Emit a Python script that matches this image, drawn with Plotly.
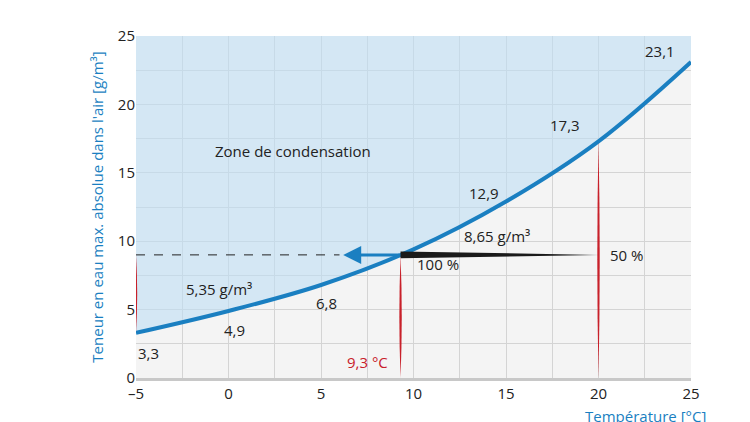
import plotly.graph_objects as go

temps = [-5, 0, 5, 10, 15, 20, 25]
water = [3.3, 4.9, 6.8, 9.4, 12.9, 17.3, 23.1]
label_txt = ["3,3", "4,9", "6,8", "", "12,9", "17,3", "23,1"]
dew_t = 9.3
abs_content = 9.0
room_t = 20
room_sat = 17.3
start_sat = 3.3

BLUE = "#1a7fc1"
RED = "#c8202a"
FONT = "Open Sans"

fig = go.Figure()
fig.add_trace(go.Scatter(x=temps, y=[25]*len(temps), mode="lines", line=dict(width=0), hoverinfo="skip"))
fig.add_trace(go.Scatter(x=temps, y=water, mode="lines", line=dict(color=BLUE, width=4, shape="spline"),
                         fill="tonexty", fillcolor="rgba(190,222,244,0.6)"))

lx = [-4.3, 0.3, 5.3, None, 13.8, 18.2, 23.3]
ly = [1.8, 3.5, 5.5, None, 13.5, 18.5, 23.9]
for s, x, y in zip(label_txt, lx, ly):
    if s:
        fig.add_annotation(x=x, y=y, text=s, showarrow=False, font=dict(size=15, color="#222", family=FONT))

shapes = []
def spindle(x, y0, y1, w=0.13):
    m = (y0 + y1) / 2
    return dict(type="path", path=f"M {x},{y0} Q {x+w},{m} {x},{y1} Q {x-w},{m} {x},{y0} Z",
                fillcolor=RED, line=dict(width=0), layer="above")
shapes.append(spindle(-5, start_sat, abs_content))
shapes.append(spindle(dew_t, 0, abs_content))
shapes.append(spindle(room_t, 0, room_sat))
shapes.append(dict(type="path", path=f"M {room_t},{abs_content} L {dew_t},{abs_content-0.25} L {dew_t},{abs_content+0.25} Z",
                   fillcolor="#1a1a1a", line=dict(width=0)))
shapes.append(dict(type="line", x0=-5, x1=6, y0=abs_content, y1=abs_content, line=dict(color="#222", width=1, dash="dash")))
fig.update_layout(shapes=shapes)
fig.add_annotation(x=6.2, y=abs_content, ax=dew_t, ay=abs_content, xref="x", yref="y", axref="x", ayref="y",
                   showarrow=True, arrowhead=2, arrowsize=1.2, arrowwidth=3, arrowcolor=BLUE, text="")

ann = [
    (dew_t - 1.8, 1.2, "9,3 °C", RED),
    (11.3, 8.3, "100 %", "#222"),
    (21.5, 9.0, "50 %", "#222"),
    (14.5, 10.4, "8,65 g/m³", "#222"),
    (-0.5, 6.5, "5,35 g/m³", "#222"),
]
for x, y, t, c in ann:
    fig.add_annotation(x=x, y=y, text=t, showarrow=False, font=dict(size=15, color=c, family=FONT))
fig.add_annotation(x=3.5, y=16.6, text="Zone de condensation", showarrow=False,
                   font=dict(size=15, color="#222", family=FONT))
fig.add_annotation(xref="paper", yref="paper", x=1.03, y=-0.075, xanchor="right", yanchor="top",
                   text="Température [°C]", showarrow=False, font=dict(size=15, color=BLUE, family=FONT))

fig.update_xaxes(range=[-5, 25], tickvals=[-5, 0, 5, 10, 15, 20, 25], ticktext=["–5", "0", "5", "10", "15", "20", "25"],
                 showgrid=True, gridcolor="#d4d4d4", gridwidth=1, zeroline=False, automargin=False,
                 tickfont=dict(size=15, color="#222", family=FONT), ticks="", showline=True,
                 linecolor="#c8c8c8", linewidth=3,
                 minor=dict(dtick=2.5, showgrid=True, gridcolor="#d4d4d4"))
fig.update_yaxes(range=[0, 25], dtick=5, showgrid=True, gridcolor="#d4d4d4", zeroline=False, automargin=False,
                 tickfont=dict(size=15, color="#222", family=FONT), ticks="",
                 minor=dict(dtick=2.5, showgrid=True, gridcolor="#d4d4d4"),
                 title=dict(text="Teneur en eau max. absolue dans l'air [g/m³]", standoff=10,
                            font=dict(size=15, color=BLUE, family=FONT)))
fig.update_layout(width=750, height=422, margin=dict(l=128, r=67, t=28, b=52),
                  paper_bgcolor="white", plot_bgcolor="#f4f4f4", showlegend=False,
                  font=dict(family=FONT))
fig.write_html("out.html")
